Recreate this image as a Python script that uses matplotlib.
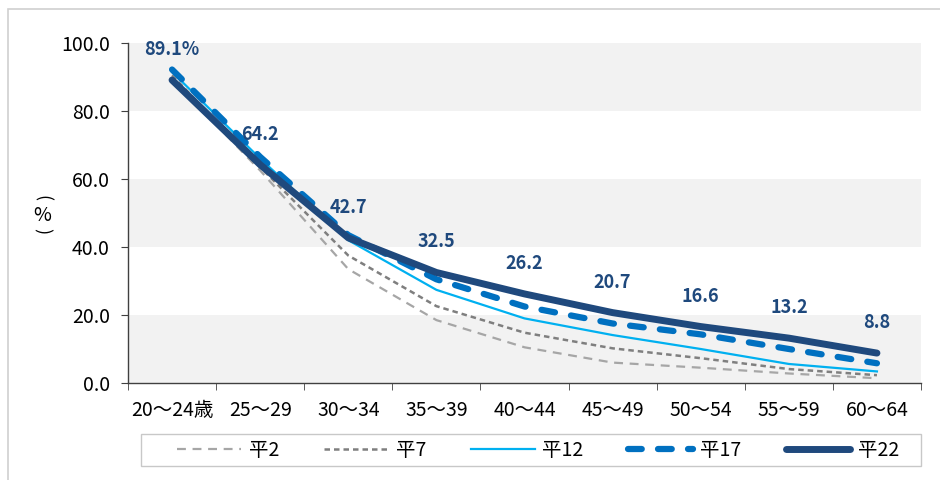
import matplotlib
matplotlib.use("Agg")
import matplotlib.pyplot as plt
from matplotlib.patches import Rectangle
import numpy as np

plt.rcParams['font.family'] = ['Noto Sans CJK JP', 'DejaVu Sans']

categories = ["20～24歳", "25～29", "30～34", "35～39", "40～44", "45～49", "50～54", "55～59", "60～64"]
h2 = [89.5, 62.5, 33.5, 18.5, 10.5, 6.0, 4.5, 2.8, 1.4]
h7 = [90.5, 63.5, 37.5, 22.6, 14.8, 10.2, 7.3, 4.1, 2.3]
h12 = [91.5, 66.0, 42.0, 27.4, 19.0, 14.1, 10.0, 5.6, 3.4]
h17 = [92.2, 66.5, 43.5, 30.5, 22.5, 17.5, 14.3, 10.0, 5.8]
h22 = [89.1, 64.2, 42.7, 32.5, 26.2, 20.7, 16.6, 13.2, 8.8]
series_names = ["平2", "平7", "平12", "平17", "平22"]
yticks = [0, 20, 40, 60, 80, 100]

fig = plt.figure(figsize=(9.4, 4.8), dpi=100)
ax = fig.add_axes([128/940, 1-383/480, (921-128)/940, (383-43)/480])

# figure border
fig.patches.append(Rectangle((8/940, -0.1), 1.1, (480-9)/480 + 0.1, transform=fig.transFigure,
                             fill=False, edgecolor='#D0D0D0', linewidth=1.2, zorder=0))

n = len(categories)
x = np.arange(n)
ax.set_xlim(-0.5, n - 0.5)
ax.set_ylim(0, 100)

# alternating bands
for lo in [0, 40, 80]:
    ax.axhspan(lo, lo + 20, color='#F2F2F2', zorder=0, linewidth=0)

ax.plot(x, h2, color='#A6A6A6', lw=1.6, dashes=(4, 3), label=series_names[0], zorder=2)
ax.plot(x, h7, color='#7F7F7F', lw=1.8, dashes=(2.2, 1.6), label=series_names[1], zorder=3)
ax.plot(x, h12, color='#00B0F0', lw=1.6, label=series_names[2], zorder=4)
ax.plot(x, h17, color='#0070C0', lw=4.5, dashes=(2.2, 2.6), dash_capstyle='round',
        label=series_names[3], zorder=5)
ax.plot(x, h22, color='#1F497D', lw=5, solid_capstyle='round', label=series_names[4], zorder=6)

for i, v in enumerate(h22):
    txt = f"{v:.1f}%" if i == 0 else f"{v:.1f}"
    ax.annotate(txt, (x[i], v), xytext=(0, 22), textcoords='offset points',
                ha='center', va='center', fontsize=13, fontweight='bold', color='#1F497D',
                zorder=7)

ax.set_yticks(yticks)
ax.set_yticklabels([f"{t:.1f}" for t in yticks], fontsize=14)
ax.set_xticks(x)
ax.set_xticklabels(categories, fontsize=14)
ax.set_xticks(np.arange(n + 1) - 0.5, minor=True)
ax.tick_params(axis='x', which='major', length=0, pad=12)
ax.tick_params(axis='x', which='minor', length=5, direction='out', color='#404040')
ax.tick_params(axis='y', length=5, direction='out', color='#404040', pad=8)

for s in ['top', 'right']:
    ax.spines[s].set_visible(False)
for s in ['left', 'bottom']:
    ax.spines[s].set_color('#404040')
    ax.spines[s].set_linewidth(1.0)

# vertical "(%)" label
fig.text(42/940, 1-198/480, "(", rotation=-90, ha='center', va='center', fontsize=13)
fig.text(42/940, 1-215/480, "%", ha='center', va='center', fontsize=14)
fig.text(42/940, 1-231/480, ")", rotation=-90, ha='center', va='center', fontsize=13)

# legend frame
fig.patches.append(Rectangle((141/940, 1-466/480), (921-141)/940, 32/480, transform=fig.transFigure,
                             fill=False, edgecolor='#C8C8C8', linewidth=1.0))
leg = fig.legend(loc='center', bbox_to_anchor=(538/940, 1-450/480),
                 ncol=5, frameon=False, fontsize=14, handlelength=3.3, columnspacing=2.3,
                 handletextpad=0.4, borderaxespad=0)

fig.savefig("out.png", dpi=100)
